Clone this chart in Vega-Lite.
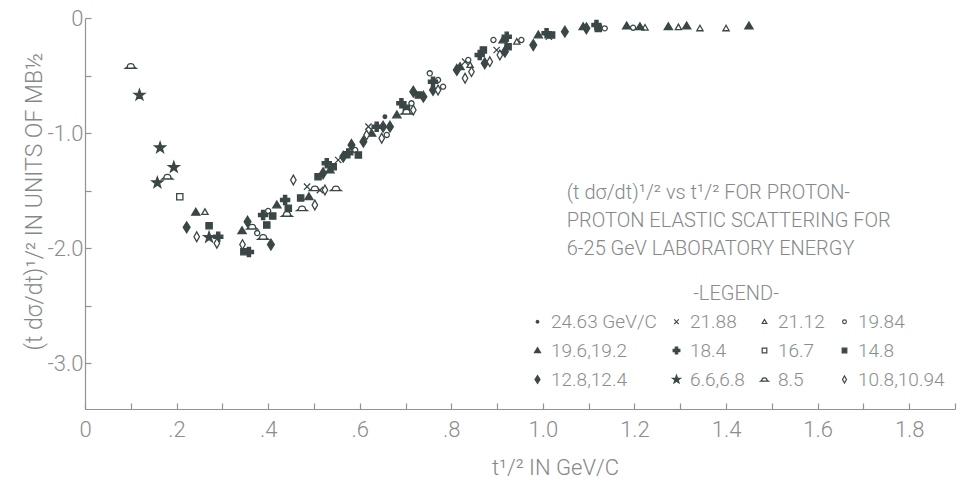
{
  "$schema": "https://vega.github.io/schema/vega-lite/v6.json",
  "autosize": {"type": "none"},
  "width": 870,
  "height": 391,
  "padding": {"left": 85, "top": 18, "right": 6, "bottom": 85},
  "background": "white",
  "config": {
    "view": {"stroke": null},
    "font": "Roboto",
    "axis": {
      "grid": false,
      "domainColor": "#8f9393",
      "domainWidth": 1.2,
      "tickColor": "#8f9393",
      "tickWidth": 1.2,
      "tickSize": -6,
      "labelColor": "#8a8d8d",
      "labelFont": "Roboto",
      "labelFontSize": 22,
      "labelFontWeight": 300,
      "titleColor": "#858888",
      "titleFont": "Roboto",
      "titleFontSize": 22,
      "titleFontWeight": 300
    },
    "legend": {
      "labelFont": "Roboto",
      "titleFont": "Roboto"
    }
  },
  "datasets": {
    "pts": [
      {"x": 0.655, "y": -0.858, "s": "24.63 GeV/C"},
      {"x": 0.485, "y": -1.467, "s": "21.88"}, {"x": 0.513, "y": -1.496, "s": "21.88"}, {"x": 0.553, "y": -1.235, "s": "21.88"}, {"x": 0.619, "y": -0.945, "s": "21.88"}, {"x": 0.83, "y": -0.38, "s": "21.88"}, {"x": 0.899, "y": -0.278, "s": "21.88"}, {"x": 1.013, "y": -0.163, "s": "21.88"},
      {"x": 0.262, "y": -1.687, "s": "21.12"}, {"x": 0.841, "y": -0.409, "s": "21.12"}, {"x": 0.943, "y": -0.206, "s": "21.12"}, {"x": 1.223, "y": -0.084, "s": "21.12"}, {"x": 1.296, "y": -0.081, "s": "21.12"}, {"x": 1.343, "y": -0.09, "s": "21.12"}, {"x": 1.4, "y": -0.09, "s": "21.12"},
      {"x": 0.376, "y": -1.87, "s": "19.84"}, {"x": 0.4, "y": -1.678, "s": "19.84"}, {"x": 0.59, "y": -1.148, "s": "19.84"}, {"x": 0.659, "y": -1.017, "s": "19.84"}, {"x": 0.713, "y": -0.742, "s": "19.84"}, {"x": 0.753, "y": -0.481, "s": "19.84"}, {"x": 0.771, "y": -0.539, "s": "19.84"}, {"x": 0.782, "y": -0.597, "s": "19.84"}, {"x": 0.837, "y": -0.365, "s": "19.84"}, {"x": 0.892, "y": -0.191, "s": "19.84"}, {"x": 0.953, "y": -0.191, "s": "19.84"}, {"x": 1.135, "y": -0.09, "s": "19.84"}, {"x": 1.197, "y": -0.084, "s": "19.84"},
      {"x": 0.242, "y": -1.69, "s": "19.6,19.2"}, {"x": 0.343, "y": -1.85, "s": "19.6,19.2"}, {"x": 0.419, "y": -1.626, "s": "19.6,19.2"}, {"x": 0.489, "y": -1.554, "s": "19.6,19.2"}, {"x": 0.535, "y": -1.322, "s": "19.6,19.2"}, {"x": 0.626, "y": -1.003, "s": "19.6,19.2"}, {"x": 0.681, "y": -0.843, "s": "19.6,19.2"}, {"x": 0.819, "y": -0.423, "s": "19.6,19.2"}, {"x": 0.913, "y": -0.191, "s": "19.6,19.2"}, {"x": 0.99, "y": -0.148, "s": "19.6,19.2"}, {"x": 1.088, "y": -0.076, "s": "19.6,19.2"}, {"x": 1.183, "y": -0.07, "s": "19.6,19.2"}, {"x": 1.212, "y": -0.076, "s": "19.6,19.2"}, {"x": 1.274, "y": -0.076, "s": "19.6,19.2"}, {"x": 1.314, "y": -0.07, "s": "19.6,19.2"}, {"x": 1.45, "y": -0.07, "s": "19.6,19.2"},
      {"x": 0.291, "y": -1.902, "s": "18.4"}, {"x": 0.358, "y": -2.035, "s": "18.4"}, {"x": 0.389, "y": -1.713, "s": "18.4"}, {"x": 0.437, "y": -1.583, "s": "18.4"}, {"x": 0.528, "y": -1.263, "s": "18.4"}, {"x": 0.575, "y": -1.177, "s": "18.4"}, {"x": 0.637, "y": -0.945, "s": "18.4"}, {"x": 0.691, "y": -0.742, "s": "18.4"}, {"x": 0.76, "y": -0.554, "s": "18.4"}, {"x": 0.862, "y": -0.322, "s": "18.4"}, {"x": 0.921, "y": -0.163, "s": "18.4"}, {"x": 1.008, "y": -0.133, "s": "18.4"}, {"x": 1.117, "y": -0.061, "s": "18.4"},
      {"x": 0.207, "y": -1.554, "s": "16.7"},
      {"x": 0.271, "y": -1.806, "s": "14.8"}, {"x": 0.347, "y": -2.032, "s": "14.8"}, {"x": 0.41, "y": -1.722, "s": "14.8"}, {"x": 0.397, "y": -1.8, "s": "14.8"}, {"x": 0.444, "y": -1.655, "s": "14.8"}, {"x": 0.471, "y": -1.565, "s": "14.8"}, {"x": 0.509, "y": -1.38, "s": "14.8"}, {"x": 0.542, "y": -1.293, "s": "14.8"}, {"x": 0.597, "y": -1.191, "s": "14.8"}, {"x": 0.702, "y": -0.785, "s": "14.8"}, {"x": 0.728, "y": -0.67, "s": "14.8"}, {"x": 0.87, "y": -0.278, "s": "14.8"}, {"x": 0.924, "y": -0.25, "s": "14.8"}, {"x": 1.019, "y": -0.148, "s": "14.8"}, {"x": 1.121, "y": -0.09, "s": "14.8"},
      {"x": 0.222, "y": -1.82, "s": "12.8,12.4"}, {"x": 0.355, "y": -1.771, "s": "12.8,12.4"}, {"x": 0.406, "y": -1.97, "s": "12.8,12.4"}, {"x": 0.52, "y": -1.35, "s": "12.8,12.4"}, {"x": 0.564, "y": -1.206, "s": "12.8,12.4"}, {"x": 0.582, "y": -1.104, "s": "12.8,12.4"}, {"x": 0.608, "y": -1.076, "s": "12.8,12.4"}, {"x": 0.651, "y": -0.945, "s": "12.8,12.4"}, {"x": 0.666, "y": -0.945, "s": "12.8,12.4"}, {"x": 0.717, "y": -0.641, "s": "12.8,12.4"}, {"x": 0.739, "y": -0.684, "s": "12.8,12.4"}, {"x": 0.76, "y": -0.626, "s": "12.8,12.4"}, {"x": 0.812, "y": -0.452, "s": "12.8,12.4"}, {"x": 0.873, "y": -0.394, "s": "12.8,12.4"}, {"x": 0.917, "y": -0.293, "s": "12.8,12.4"}, {"x": 0.979, "y": -0.235, "s": "12.8,12.4"}, {"x": 1.048, "y": -0.119, "s": "12.8,12.4"}, {"x": 1.095, "y": -0.09, "s": "12.8,12.4"},
      {"x": 0.119, "y": -0.67, "s": "6.6,6.8"}, {"x": 0.164, "y": -1.128, "s": "6.6,6.8"}, {"x": 0.194, "y": -1.298, "s": "6.6,6.8"}, {"x": 0.158, "y": -1.432, "s": "6.6,6.8"}, {"x": 0.271, "y": -1.907, "s": "6.6,6.8"},
      {"x": 0.1, "y": -0.417, "s": "8.5"}, {"x": 0.18, "y": -1.38, "s": "8.5"}, {"x": 0.365, "y": -1.815, "s": "8.5"}, {"x": 0.389, "y": -1.904, "s": "8.5"}, {"x": 0.441, "y": -1.704, "s": "8.5"}, {"x": 0.474, "y": -1.655, "s": "8.5"}, {"x": 0.502, "y": -1.481, "s": "8.5"}, {"x": 0.548, "y": -1.481, "s": "8.5"}, {"x": 0.702, "y": -0.815, "s": "8.5"},
      {"x": 0.244, "y": -1.902, "s": "10.8,10.94"}, {"x": 0.288, "y": -1.959, "s": "10.8,10.94"}, {"x": 0.344, "y": -1.97, "s": "10.8,10.94"}, {"x": 0.455, "y": -1.409, "s": "10.8,10.94"}, {"x": 0.502, "y": -1.626, "s": "10.8,10.94"}, {"x": 0.524, "y": -1.496, "s": "10.8,10.94"}, {"x": 0.615, "y": -1.017, "s": "10.8,10.94"}, {"x": 0.648, "y": -1.046, "s": "10.8,10.94"}, {"x": 0.717, "y": -0.8, "s": "10.8,10.94"}, {"x": 0.771, "y": -0.626, "s": "10.8,10.94"}, {"x": 0.83, "y": -0.524, "s": "10.8,10.94"}, {"x": 0.844, "y": -0.467, "s": "10.8,10.94"}, {"x": 0.884, "y": -0.38, "s": "10.8,10.94"}, {"x": 0.906, "y": -0.322, "s": "10.8,10.94"}
    ]
  },
  "layer": [
    {
      "data": {"name": "pts"},
      "mark": {"type": "point", "strokeWidth": 1.3, "opacity": 1, "size": 130},
      "encoding": {
        "x": {
          "field": "x", "type": "quantitative",
          "scale": {"domain": [0, 1.9], "nice": false, "zero": false},
          "axis": {
            "title": "t¹/²  IN GeV/C",
            "values": [0, 0.1, 0.2, 0.3, 0.4, 0.5, 0.6, 0.7, 0.8, 0.9, 1.0, 1.1, 1.2, 1.3, 1.4, 1.5, 1.6, 1.7, 1.8, 1.9],
            "labelExpr": "datum.value === 0 ? '0' : (round(datum.value*10) % 2 !== 0 ? '' : (datum.value < 0.95 ? '.' + round(datum.value*10) : format(datum.value, '.1f')))",
            "labelPadding": 16,
            "labelFlush": false,
            "labelOverlap": false,
            "titlePadding": 17,
            "titleX": 470
          }
        },
        "y": {
          "field": "y", "type": "quantitative",
          "scale": {"domain": [-3.4, 0], "nice": false, "zero": false},
          "axis": {
            "title": "(t dσ/dt)¹/²   IN UNITS OF   MB½",
            "titleFontSize": 23,
            "values": [0, -0.5, -1, -1.5, -2, -2.5, -3],
            "labelExpr": "datum.value === 0 ? '0' : (round(datum.value*10) % 10 !== 0 ? '' : '-' + format(-datum.value, '.1f'))",
            "labelPadding": 8,
            "labelFlush": false,
            "labelOverlap": false,
            "titlePadding": 1,
            "titleY": 183
          }
        },
        "shape": {
          "field": "s", "type": "nominal",
          "scale": {
            "domain": ["24.63 GeV/C", "21.88", "21.12", "19.84", "19.6,19.2", "18.4", "16.7", "14.8", "12.8,12.4", "6.6,6.8", "8.5", "10.8,10.94"],
            "range": [
              "M0.32,0A0.32,0.32 0 1,1 -0.32,0A0.32,0.32 0 1,1 0.32,0Z",
              "M-0.55,-0.55L0.55,0.55M-0.55,0.55L0.55,-0.55",
              "M0,-0.55L0.55,0.42L-0.55,0.42Z",
              "M0.45,0A0.45,0.45 0 1,1 -0.45,0A0.45,0.45 0 1,1 0.45,0Z",
              "M0,-0.7L0.72,0.5L-0.72,0.5Z",
              "M-0.28,-0.8H0.28V-0.28H0.8V0.28H0.28V0.8H-0.28V0.28H-0.8V-0.28H-0.28Z",
              "M-0.55,-0.55H0.55V0.55H-0.55Z",
              "M-0.55,-0.55H0.55V0.55H-0.55Z",
              "M0,-0.95L0.6,0L0,0.95L-0.6,0Z",
              "M0,-1L0.235,-0.324L0.951,-0.309L0.38,0.124L0.588,0.809L0,0.4L-0.588,0.809L-0.38,0.124L-0.951,-0.309L-0.235,-0.324Z",
              "M-0.95,0.4L-0.6,0.15A0.6,0.55 0 0,1 0.6,0.15L0.95,0.4Z",
              "M0,-0.85L0.48,0L0,0.85L-0.48,0Z"
            ]
          },
          "legend": {
            "title": "-LEGEND-",
            "orient": "none",
            "direction": "horizontal",
            "legendX": 443,
            "legendY": 266,
            "columns": 4,
            "columnPadding": 10,
            "rowPadding": 9,
            "titleAnchor": "middle",
            "titleFontSize": 20,
            "titleFontWeight": 300,
            "titleColor": "#8a8d8d",
            "titlePadding": 8,
            "labelFontSize": 19,
            "labelFontWeight": 300,
            "labelColor": "#8a8d8d",
            "labelOffset": 4,
            "symbolSize": 70,
            "symbolStrokeWidth": 1.2
          }
        },
        "fill": {
          "field": "s", "type": "nominal",
          "scale": {
            "domain": ["24.63 GeV/C", "21.88", "21.12", "19.84", "19.6,19.2", "18.4", "16.7", "14.8", "12.8,12.4", "6.6,6.8", "8.5", "10.8,10.94"],
            "range": ["#3b4747", "#3b4747", "#ffffff", "#ffffff", "#3b4747", "#3b4747", "#ffffff", "#3b4747", "#3b4747", "#3b4747", "#ffffff", "#ffffff"]
          },
          "legend": {
            "title": "-LEGEND-",
            "orient": "none",
            "direction": "horizontal",
            "legendX": 443,
            "legendY": 266,
            "columns": 4,
            "columnPadding": 10,
            "rowPadding": 9,
            "titleAnchor": "middle",
            "titleFontSize": 20,
            "titleFontWeight": 300,
            "titleColor": "#8a8d8d",
            "titlePadding": 8,
            "labelFontSize": 19,
            "labelFontWeight": 300,
            "labelColor": "#8a8d8d",
            "labelOffset": 4,
            "symbolSize": 70,
            "symbolStrokeWidth": 1.2
          }
        },
        "stroke": {
          "field": "s", "type": "nominal",
          "scale": {
            "domain": ["24.63 GeV/C", "21.88", "21.12", "19.84", "19.6,19.2", "18.4", "16.7", "14.8", "12.8,12.4", "6.6,6.8", "8.5", "10.8,10.94"],
            "range": ["#3b4747", "#3b4747", "#3b4747", "#3b4747", "#3b4747", "#3b4747", "#3b4747", "#3b4747", "#3b4747", "#3b4747", "#3b4747", "#3b4747"]
          },
          "legend": {
            "title": "-LEGEND-",
            "orient": "none",
            "direction": "horizontal",
            "legendX": 443,
            "legendY": 266,
            "columns": 4,
            "columnPadding": 10,
            "rowPadding": 9,
            "titleAnchor": "middle",
            "titleFontSize": 20,
            "titleFontWeight": 300,
            "titleColor": "#8a8d8d",
            "titlePadding": 8,
            "labelFontSize": 19,
            "labelFontWeight": 300,
            "labelColor": "#8a8d8d",
            "labelOffset": 4,
            "symbolSize": 70,
            "symbolStrokeWidth": 1.2
          }
        }
      }
    },
    {
      "data": {"values": [{}]},
      "mark": {
        "type": "text",
        "text": ["(t dσ/dt)¹/²  vs  t¹/²  FOR  PROTON-", "PROTON  ELASTIC  SCATTERING  FOR", "6-25  GeV  LABORATORY  ENERGY"],
        "align": "left",
        "baseline": "alphabetic",
        "fontSize": 20,
        "fontWeight": 300,
        "lineHeight": 28,
        "color": "#858888",
        "font": "Roboto"
      },
      "encoding": {
        "x": {"datum": 1.052},
        "y": {"datum": -1.57}
      }
    }
  ]
}
